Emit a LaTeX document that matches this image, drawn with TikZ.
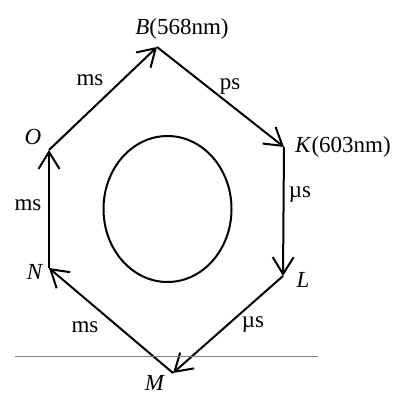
\documentclass[tikz,border=0pt]{standalone}
\usepackage{fontspec}
\setmainfont{Liberation Serif}
\usetikzlibrary{arrows.meta}

\begin{document}
\begin{tikzpicture}[
    x=1pt, y=-1pt,
    font=\fontsize{23}{25}\selectfont,
    flow/.style={
        -{Straight Barb[length=17pt,width=21pt]},
        line width=2pt,
        black
    },
    vlabel/.style={
        inner sep=1pt
    },
    elabel/.style={
        inner sep=1pt
    }
]
\useasboundingbox (0,0) rectangle (402,396);

% VERTICES
\coordinate (O) at (49,150);
\coordinate (B) at (157,47);
\coordinate (K) at (284,147);
\coordinate (L) at (283,276);
\coordinate (M) at (173,373);
\coordinate (N) at (49,268);

% ETIQUETAS DE VERTICES
\node[vlabel] (labB) at (182,29) {\textit{B}(568nm)};
\node[vlabel, anchor=west] (labK) at (294,147) {\textit{K}(603nm)};
\node[vlabel] (labO) at (33,137) {\textit{O}};
\node[vlabel] (labN) at (35,272) {\textit{N}};
\node[vlabel] (labL) at (303,280) {\textit{L}};
\node[vlabel] (labM) at (155,383) {\textit{M}};

% FLECHAS
\draw[flow] (O) -- (B);
\draw[flow] (B) -- (K);
\draw[flow] (K) -- (L);
\draw[flow] (L) -- (M);
\draw[flow] (M) -- (N);
\draw[flow] (N) -- (O);

% ETIQUETAS DE ARISTAS
\node[elabel] (tOB) at (90,80) {ms};
\node[elabel] (tBK) at (230,87) {ps};
\node[elabel] (tKL) at (300,195) {µs};
\node[elabel] (tNO) at (28,205) {ms};
\node[elabel] (tMN) at (85,327) {ms};
\node[elabel] (tLM) at (253,325) {µs};

% ELIPSE CENTRAL
\draw[line width=2pt] (167.5,209) ellipse [x radius=64, y radius=73];

% LINEA GRIS
\coordinate (ruleA) at (15,356);
\coordinate (ruleB) at (318,356);
\draw[gray, line width=0.8pt] (ruleA) -- (ruleB);

\end{tikzpicture}
\end{document}
